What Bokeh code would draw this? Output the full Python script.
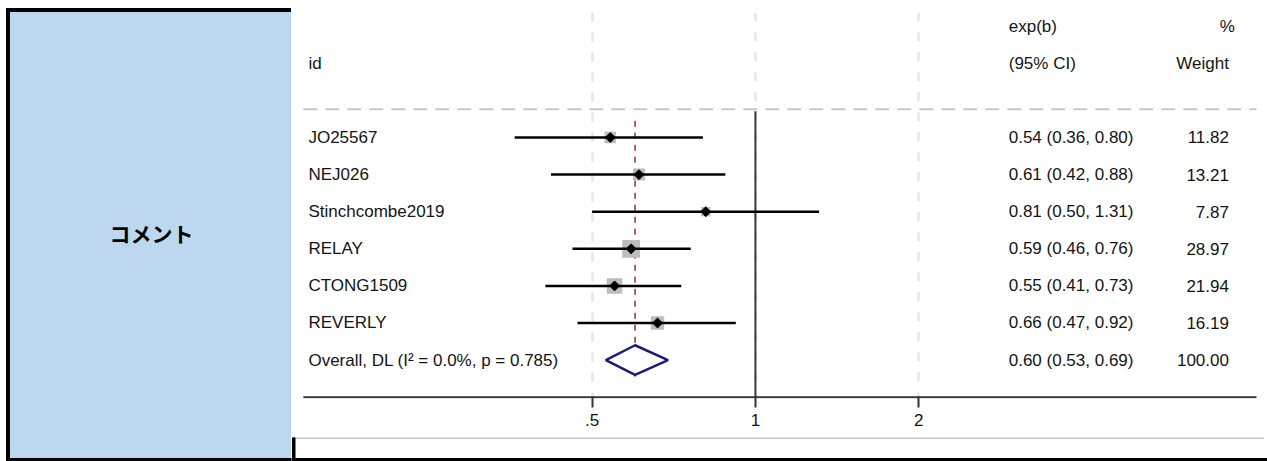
import math
from bokeh.plotting import figure
from bokeh.layouts import row, column
from bokeh.models import Range1d, FixedTicker
from bokeh.embed import file_html
from bokeh.resources import INLINE
from bokeh.core.properties import value

# ---------------- data ----------------
studies = ["JO25567", "NEJ026", "Stinchcombe2019", "RELAY", "CTONG1509", "REVERLY"]
est = [0.54, 0.61, 0.81, 0.59, 0.55, 0.66]
lo = [0.36, 0.42, 0.50, 0.46, 0.41, 0.47]
hi = [0.80, 0.88, 1.31, 0.76, 0.73, 0.92]
weights = [11.82, 13.21, 7.87, 28.97, 21.94, 16.19]
overall_label = "Overall, DL (I² = 0.0%, p = 0.785)"
overall_est = 0.60
overall_lo = 0.53
overall_hi = 0.69
overall_weight = 100.00
tick_values = [0.5, 1, 2]
tick_labels = [".5", "1", "2"]
header_id = "id"
header_es = ["exp(b)", "(95% CI)"]
header_w = ["%", "Weight"]
panel_text = "コメント"

# ---------------- layout constants ----------------
FONT = "Liberation Sans"
FS = "17px"
TXT = "#141414"
W_LEFT = 291
W_RIGHT = 976
H = 461
H_STRIP = 24
H_MAIN = H - H_STRIP
BLUE = "#BDD7EE"

rows_study = list(range(1, len(studies) + 1))
row_overall = len(studies) + 1
row_axis = row_overall + 1
header_rows = [-2, -1]
sep_y = 0.24

# horizontal extent (log axis, data units)
x_view = (0.1396, 8.787)      # whole drawing area
x_axis_span = (0.1468, 8.386)  # drawn axis line / separator
# column anchors
lab_x = 0.150
ci_x = 2.93
w_x = 7.46
pct_x = 7.65

# ---------------- left panel ----------------
left = figure(width=W_LEFT, height=H, x_range=Range1d(0, W_LEFT), y_range=Range1d(H, 0),
              output_backend="svg", toolbar_location=None,
              x_axis_location=None, y_axis_location=None, min_border=0)
left.outline_line_color = None
left.grid.visible = False
left.background_fill_color = "white"
left.border_fill_color = "white"
left.quad(left=[8], right=[W_LEFT], top=[10], bottom=[H - 3], color=BLUE)
left.quad(left=[6], right=[9], top=[8], bottom=[H], color="black")
left.quad(left=[6], right=[W_LEFT], top=[8], bottom=[11], color="black")
left.quad(left=[6], right=[W_LEFT], top=[H - 3], bottom=[H], color="black")
left.text(x=[151], y=[232], text=[panel_text], text_align="center",
          text_baseline="middle", text_font=value("Noto Sans CJK JP"),
          text_font_style="bold", text_font_size="21px", text_color="black")

# ---------------- forest plot ----------------
p = figure(width=W_RIGHT, height=H_MAIN, x_axis_type="log",
           x_range=Range1d(*x_view), y_range=Range1d(row_axis + 0.035, -2.369),
           output_backend="svg", toolbar_location=None, y_axis_location=None,
           min_border_left=0, min_border_right=0, min_border_top=12, min_border_bottom=39)
p.outline_line_color = None
p.background_fill_color = "white"
p.border_fill_color = "white"
p.ygrid.visible = False
p.xgrid.ticker = FixedTicker(ticks=tick_values)
p.xgrid.grid_line_color = "#e6e6e6"
p.xgrid.grid_line_width = 2.5
p.xgrid.grid_line_dash = "9 11"

ax = p.xaxis[0]
ax.ticker = FixedTicker(ticks=tick_values)
ax.major_label_overrides = dict(zip(tick_values, tick_labels))
ax.axis_line_color = None
ax.major_tick_line_color = "#333333"
ax.major_tick_line_width = 2
ax.major_tick_out = 9
ax.major_tick_in = 2
ax.minor_tick_out = 0
ax.minor_tick_in = 0
ax.major_label_standoff = 6
ax.major_label_text_font = FONT
ax.major_label_text_font_size = FS
ax.major_label_text_color = TXT

# axis line
p.segment(x0=[x_axis_span[0]], y0=[row_axis], x1=[x_axis_span[1]], y1=[row_axis],
          line_color="#333333", line_width=2)
# header separator
p.segment(x0=[x_axis_span[0]], y0=[sep_y], x1=[x_axis_span[1]], y1=[sep_y],
          line_color="#c8c8c8", line_width=2, line_dash="14 8")
# null line
p.segment(x0=[1], y0=[sep_y + 0.05], x1=[1], y1=[row_axis], line_color="#3a3a3a", line_width=2)
# overall effect line
p.segment(x0=[overall_est], y0=[rows_study[0] - 0.45], x1=[overall_est], y1=[row_overall + 0.45],
          line_color="#9e2a35", line_width=1.5, line_dash="6 6")

# weight boxes
box_sizes = [3.3 * math.sqrt(w) for w in weights]
p.scatter(x=est, y=rows_study, size=box_sizes, marker="square",
          fill_color="#bdbdbd", line_color=None)
# CIs
p.segment(x0=lo, y0=rows_study, x1=hi, y1=rows_study, line_color="black", line_width=2.5)
# point estimates
p.scatter(x=est, y=rows_study, size=7, marker="square", angle=math.pi / 4,
          fill_color="black", line_color="black")
# overall diamond
p.patch(x=[overall_lo, overall_est, overall_hi, overall_est],
        y=[row_overall, row_overall - 0.4, row_overall, row_overall + 0.4],
        fill_color="white", line_color="#1c1c78", line_width=2.5)

# text columns
all_rows = rows_study + [row_overall]
labels = studies + [overall_label]
ci_txt = [f"{e:.2f} ({l:.2f}, {h:.2f})" for e, l, h in zip(est, lo, hi)] + \
         [f"{overall_est:.2f} ({overall_lo:.2f}, {overall_hi:.2f})"]
w_txt = [f"{w:.2f}" for w in weights] + [f"{overall_weight:.2f}"]

common = dict(text_font=value(FONT), text_font_size=FS, text_baseline="middle", text_color=TXT)
p.text(x=[lab_x] * len(all_rows), y=all_rows, text=labels, text_align="left", **common)
p.text(x=[ci_x] * len(all_rows), y=all_rows, text=ci_txt, text_align="left", **common)
p.text(x=[w_x] * len(all_rows), y=all_rows, text=w_txt, text_align="right", **common)
# headers
p.text(x=[lab_x], y=[header_rows[1]], text=[header_id], text_align="left", **common)
p.text(x=[ci_x] * 2, y=header_rows, text=header_es, text_align="left", **common)
p.text(x=[pct_x, w_x], y=header_rows, text=header_w, text_align="right", **common)

# ---------------- bottom strip ----------------
strip = figure(width=W_RIGHT, height=H_STRIP, x_range=Range1d(0, W_RIGHT), y_range=Range1d(H_STRIP, 0),
               output_backend="svg", toolbar_location=None,
               x_axis_location=None, y_axis_location=None, min_border=0)
strip.outline_line_color = None
strip.grid.visible = False
strip.background_fill_color = "white"
strip.border_fill_color = "white"
strip.quad(left=[2], right=[W_RIGHT - 4], top=[0], bottom=[1], color="#c8c8c8")
strip.quad(left=[1], right=[3.5], top=[0], bottom=[H_STRIP], color="black")
strip.quad(left=[0], right=[W_RIGHT], top=[H_STRIP - 3], bottom=[H_STRIP], color="black")

layout = row(left, column(p, strip, spacing=0), spacing=0)

open("out.html", "w").write(file_html(layout, INLINE))
